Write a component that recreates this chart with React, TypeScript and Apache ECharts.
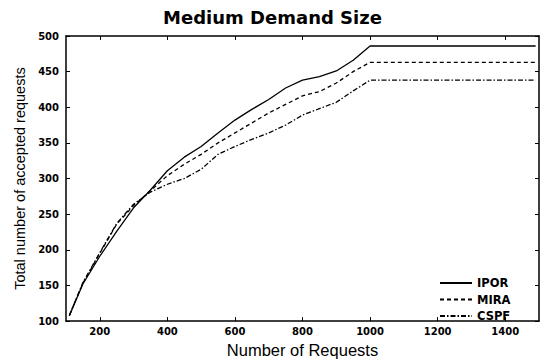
import React, { useEffect, useRef } from "react";
import * as echarts from "echarts";

const xValues = [110, 150, 200, 250, 300, 350, 400, 450, 500, 550, 600, 650, 700, 750, 800, 850, 900, 950, 1000, 1490];
const iporValues = [108, 152, 191, 226, 259, 284, 311, 330, 345, 364, 382, 397, 411, 427, 438, 443, 451, 466, 486, 486];
const miraValues = [108, 153, 195, 236, 262, 283, 304, 320, 334, 350, 364, 378, 392, 404, 416, 422, 434, 450, 463, 463];
const cspfValues = [108, 154, 196, 237, 264, 281, 292, 300, 313, 334, 345, 355, 364, 375, 389, 398, 407, 423, 438, 438];
const xTickValues = [200, 400, 600, 800, 1000, 1200, 1400];
const seriesNames = ["IPOR", "MIRA", "CSPF"];

const pairs = (ys: number[]) => xValues.map((x, i) => [x, ys[i]]);

export default function App() {
  const ref = useRef<HTMLDivElement>(null);
  useEffect(() => {
    if (!ref.current) return;
    const chart = echarts.init(ref.current, undefined, { renderer: "svg" });
    const axisLine = { lineStyle: { color: "#000", width: 1.5 } };
    const tickFont = {
      color: "#000",
      fontFamily: "DejaVu Sans",
      fontWeight: "bold" as const,
      fontSize: 10,
      formatter: (v: number) => String(v),
    };
    chart.setOption({
      animation: false,
      backgroundColor: "#fff",
      title: {
        text: "Medium Demand Size",
        left: "center",
        top: 8,
        padding: 0,
        textStyle: { fontFamily: "DejaVu Sans", fontWeight: "bold", fontSize: 18, color: "#000" },
      },
      grid: { left: 66, right: 6, top: 36, bottom: 37, containLabel: false },
      legend: {
        orient: "vertical",
        left: 439,
        top: 277,
        itemWidth: 32,
        itemHeight: 10,
        itemGap: 4.5,
        padding: 0,
        data: seriesNames,
        itemStyle: { opacity: 0 },
        textStyle: { fontFamily: "DejaVu Sans", fontWeight: "bold", fontSize: 11.5, color: "#000" },
      },
      xAxis: [
        {
          type: "value",
          min: 100,
          max: 1500,
          position: "bottom",
          axisLine,
          axisTick: { inside: true, length: 4, customValues: xTickValues, lineStyle: { color: "#000" } },
          axisLabel: { ...tickFont, margin: 5, customValues: xTickValues },
          splitLine: { show: false },
          name: "Number of Requests",
          nameLocation: "middle",
          nameGap: 19,
          nameTextStyle: { fontFamily: "Liberation Sans", fontSize: 16.5, color: "#000" },
        },
        {
          type: "value",
          min: 100,
          max: 1500,
          position: "top",
          axisLine,
          axisTick: { inside: true, length: 4, customValues: xTickValues, lineStyle: { color: "#000" } },
          axisLabel: { show: false },
          splitLine: { show: false },
        },
      ],
      yAxis: [
        {
          type: "value",
          min: 100,
          max: 500,
          interval: 50,
          position: "left",
          axisLine: { show: true, ...axisLine },
          axisTick: { show: true, inside: true, length: 4, lineStyle: { color: "#000" } },
          axisLabel: { ...tickFont, margin: 7 },
          splitLine: { show: false },
          name: "Total number of accepted requests",
          nameLocation: "middle",
          nameGap: 38,
          nameTextStyle: { fontFamily: "Liberation Sans", fontSize: 14.5, color: "#000" },
        },
        {
          type: "value",
          min: 100,
          max: 500,
          interval: 50,
          position: "right",
          axisLine: { show: true, ...axisLine },
          axisTick: { show: true, inside: true, length: 4, lineStyle: { color: "#000" } },
          axisLabel: { show: false },
          splitLine: { show: false },
        },
      ],
      series: [
        { name: "IPOR", type: "line", data: pairs(iporValues), lineStyle: { type: "solid" } },
        { name: "MIRA", type: "line", data: pairs(miraValues), lineStyle: { type: [4, 3] } },
        { name: "CSPF", type: "line", data: pairs(cspfValues), lineStyle: { type: [5, 2, 1.5, 2] } },
      ].map((s) => ({
        ...s,
        symbol: "none",
        showSymbol: false,
        xAxisIndex: 0,
        yAxisIndex: 0,
        color: "#000",
        lineStyle: { ...s.lineStyle, color: "#000", width: 1.3 },
      })),
    });
    return () => chart.dispose();
  }, []);
  return <div ref={ref} style={{ position: "fixed", left: 0, top: 0, width: 545, height: 363 }} />;
}
